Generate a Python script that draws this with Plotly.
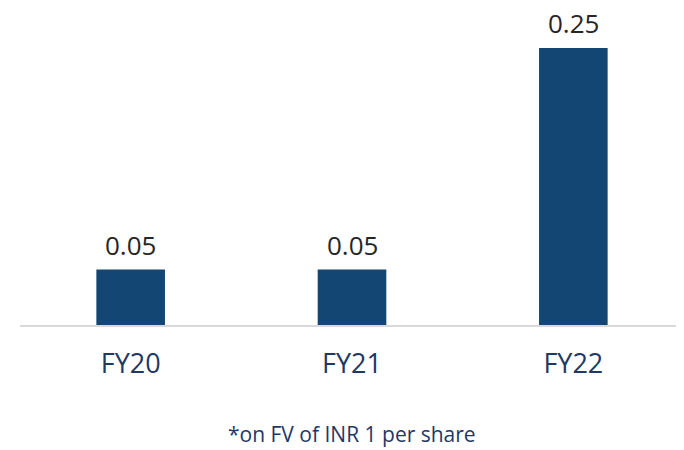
import plotly.graph_objects as go

years = ["FY20", "FY21", "FY22"]
dividend = [0.05, 0.05, 0.25]
labels = ["0.05", "0.05", "0.25"]
footnote = "*on FV of INR 1 per share"

BAR = "#134672"
NAVY = "#1f3864"
FONT = "Open Sans"

# the page puts the figure 8px in from the top-left corner, so size it to fit
W, H = 676, 442

fig = go.Figure()
fig.add_trace(go.Bar(
    x=years, y=dividend,
    marker=dict(color=BAR, line=dict(width=0)), width=0.31,
))

# value labels above the bars
for yr, v, lab in zip(years, dividend, labels):
    fig.add_annotation(x=yr, y=v, text=lab, showarrow=False, yanchor="bottom",
                       yshift=6, borderpad=0,
                       font=dict(size=26, color="#262626", family=FONT))

fig.add_annotation(text=footnote, xref="paper", yref="paper", x=0.5, y=-0.345,
                   xanchor="center", yanchor="middle", showarrow=False, borderpad=0,
                   font=dict(size=21, color=NAVY, family=FONT))

fig.update_layout(
    width=W, height=H, margin=dict(l=12, r=0, t=0, b=125, autoexpand=False),
    paper_bgcolor="white", plot_bgcolor="white", showlegend=False,
    font=dict(family=FONT),
    xaxis=dict(showline=True, linecolor="#d9d9d9", linewidth=2, ticks="",
               tickfont=dict(size=27, color=NAVY), ticklabelstandoff=14),
    yaxis=dict(range=[0, 0.2861], visible=False, showgrid=False),
)
fig.write_html("out.html")
